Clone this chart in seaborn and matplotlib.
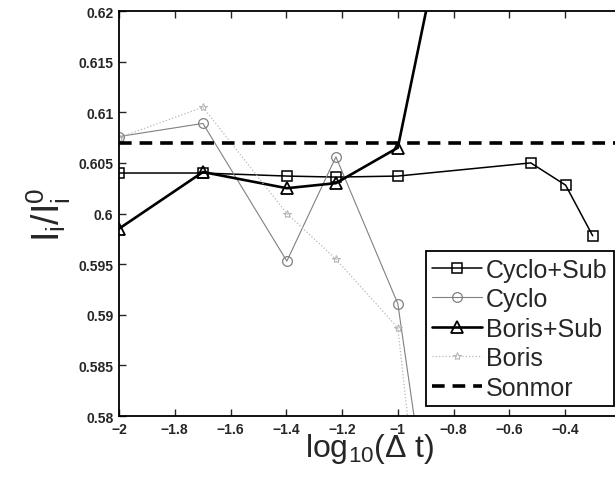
import matplotlib
matplotlib.use("Agg")
import matplotlib.pyplot as plt
import numpy as np
import pandas as pd
import seaborn as sns

# log10(dt) sample points
log_dt = [-2.0, -1.699, -1.398, -1.222, -1.0, -0.523, -0.398, -0.301]

cyclo_sub = [0.6040, 0.6040, 0.6037, 0.6036, 0.6037, 0.6050, 0.6028, 0.5978]
cyclo = [0.6076, 0.6089, 0.5953, 0.6056, 0.5911, 0.500]
boris_sub = [0.5985, 0.6041, 0.6025, 0.6030, 0.6065, 0.670]
boris = [0.6075, 0.6105, 0.6000, 0.5955, 0.5887, 0.470]
sonmor = 0.6070

series_names = ["Cyclo+Sub", "Cyclo", "Boris+Sub", "Boris"]
series_values = [cyclo_sub, cyclo, boris_sub, boris]

x_ticks = [-2, -1.8, -1.6, -1.4, -1.2, -1, -0.8, -0.6, -0.4]
x_tick_labels = ["\u22122", "\u22121.8", "\u22121.6", "\u22121.4", "\u22121.2",
                 "\u22121", "\u22120.8", "\u22120.6", "\u22120.4"]
y_ticks = [0.58, 0.585, 0.59, 0.595, 0.6, 0.605, 0.61, 0.615, 0.62]
y_tick_labels = ["0.58", "0.585", "0.59", "0.595", "0.6", "0.605", "0.61", "0.615", "0.62"]

sns.set_style("ticks")
plt.rcParams["font.family"] = ["Liberation Sans", "DejaVu Sans"]
plt.rcParams["mathtext.fontset"] = "custom"
plt.rcParams["mathtext.rm"] = "Liberation Sans"
plt.rcParams["mathtext.it"] = "Liberation Sans"

fig = plt.figure(figsize=(6.15, 4.81), dpi=100)
ax = fig.add_axes([0.1935, 0.133, 0.816, 0.842])

styles = {
    "Cyclo+Sub": dict(color="black", lw=1.1, marker="s", ms=7, ls="-", mew=1.1),
    "Cyclo": dict(color="#808080", lw=0.8, marker="o", ms=7, ls="-", mew=0.9),
    "Boris+Sub": dict(color="black", lw=1.9, marker="^", ms=8, ls="-", mew=1.3),
    "Boris": dict(color="#b8b8b8", lw=0.9, marker="*", ms=6, ls=":", mew=0.8),
}

for name, vals in zip(series_names, series_values):
    df = pd.DataFrame({"x": log_dt[:len(vals)], "y": vals})
    st = styles[name]
    sns.lineplot(data=df, x="x", y="y", ax=ax, sort=False, estimator=None,
                 color=st["color"], linewidth=st["lw"], linestyle=st["ls"],
                 marker=st["marker"], markersize=st["ms"],
                 markerfacecolor="none", markeredgecolor=st["color"],
                 markeredgewidth=st["mew"], label=name)

ax.axhline(sonmor, color="black", lw=2.6, ls=(0, (3.5, 2.2)), label="Sonmor")

ax.set_xlim(-2, -0.2)
ax.set_ylim(0.58, 0.62)
ax.set_xticks(x_ticks)
ax.set_xticklabels(x_tick_labels)
ax.set_yticks(y_ticks)
ax.set_yticklabels(y_tick_labels)
ax.tick_params(direction="in", top=True, right=False, length=5, width=1,
               labelsize=10, pad=4)
for lab in ax.get_xticklabels() + ax.get_yticklabels():
    lab.set_fontweight("bold")
for s in ax.spines.values():
    s.set_linewidth(1.3)
    s.set_color("black")

ax.set_xlabel(r"$\mathregular{log_{10}(\Delta\ t)}$", fontsize=23, labelpad=-3)
ax.set_ylabel(r"$\mathregular{I_i/I_i^0}$", fontsize=27, labelpad=4)

leg = ax.legend(loc="lower right", bbox_to_anchor=(0.998, 0.154),
                bbox_transform=fig.transFigure, borderaxespad=0,
                fontsize=18, frameon=True, fancybox=False, framealpha=1,
                edgecolor="black", handlelength=2.0, handletextpad=0.15,
                labelspacing=0.22, borderpad=0.25)
leg.get_frame().set_linewidth(1.3)

fig.savefig("out.png", dpi=100)
